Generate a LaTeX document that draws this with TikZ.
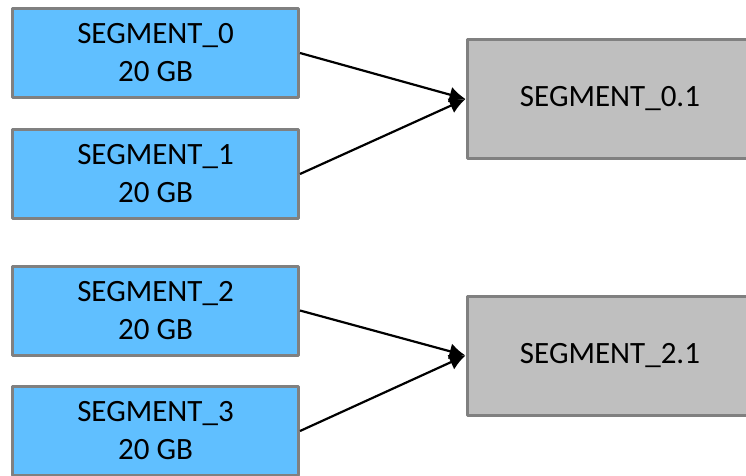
\documentclass[tikz,border=0pt]{standalone}
\usepackage{fontspec}
\setmainfont{Carlito}
\usetikzlibrary{arrows.meta}
\definecolor{segblue}{RGB}{96,191,255}
\definecolor{seggray}{RGB}{191,191,191}
\definecolor{segline}{RGB}{128,128,128}
\begin{document}
\begin{tikzpicture}[x=1pt, y=-1pt, font=\fontsize{31}{38}\selectfont, line join=round, >={Latex[length=16pt,width=16pt]}]
\tikzset{
  seg/.style={draw=segline, line width=3pt, fill=segblue, minimum width=286pt, minimum height=89pt, inner sep=0pt, align=center},
  merged/.style={seg, fill=seggray, minimum height=119pt, anchor=west},
  link/.style={->, line width=2.2pt, black}
}
\def\bx{155.5}
\useasboundingbox (0,0) rectangle (746,475);
\node[seg] (s0) at (\bx,53) {SEGMENT\_0\\20 GB};
\node[seg] (s1) at (\bx,174) {SEGMENT\_1\\20 GB};
\node[seg] (s2) at (\bx,310.5) {SEGMENT\_2\\20 GB};
\node[seg] (s3) at (\bx,431) {SEGMENT\_3\\20 GB};
\node[merged] (m0) at (465.5,99) {SEGMENT\_0.1};
\node[merged] (m2) at (465.5,355.5) {SEGMENT\_2.1};
\draw[link] (s0.east)--(m0.west);
\draw[link] (s1.east)--(m0.west);
\draw[link] (s2.east)--(m2.west);
\draw[link] (s3.east)--(m2.west);
\end{tikzpicture}
\end{document}
